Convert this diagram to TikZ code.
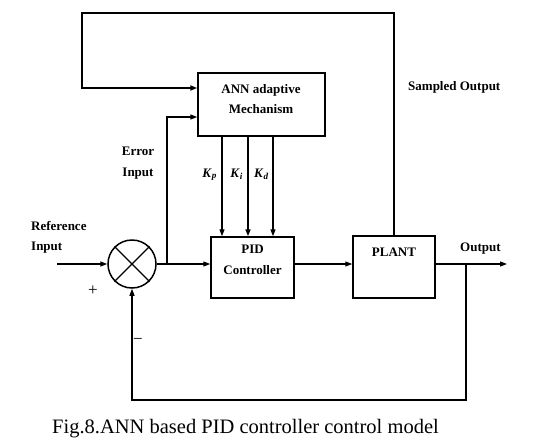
\documentclass[tikz,border=0pt]{standalone}
\usepackage{fontspec}
\setmainfont{Liberation Serif}
\usetikzlibrary{arrows.meta,calc,positioning}

\begin{document}
\begin{tikzpicture}[x=1pt,y=-1pt,every node/.style={font=\fontsize{13}{20.5}\selectfont\bfseries,inner sep=0pt}]
  \tikzset{bx/.style n args={2}{draw,line width=1.5pt,minimum width=#1,minimum height=#2},
    txt/.style={align=center,anchor=north},
    arr/.style={-{Triangle[length=7pt,width=5pt]},line width=1.1pt}}
  \useasboundingbox (0,0) rectangle (551,447);
  % blocks
  \node[bx={127pt}{63pt}] (ann) at (261.5,104.5) {};
  \node[txt] (annTxt) at (261,84) {ANN adaptive\\Mechanism};
  \node[bx={83pt}{61pt}] (pid) at (252.5,267.5) {};
  \node[txt] (pidTxt) at (252.5,245) {PID\\Controller};
  \node[bx={82pt}{62pt}] (plant) at (394,267) {};
  \node[txt] (plantTxt) at (394,248) {PLANT};
  \node[draw,circle,line width=1.5pt,minimum size=48pt] (sum) at (132,264) {};
  \draw[line width=1.4pt] (sum.north west) -- (sum.south east) (sum.north east) -- (sum.south west);
  % labels
  \node[align=left,anchor=north west] (refTxt) at (31,221) {Reference\\Input};
  \node[txt] (errTxt) at (138,147) {Error\\Input};
  \node[anchor=base east] (kpTxt) at (217,177) {\textit{K}\textsubscript{\textit{p}}};
  \node[anchor=base east] (kiTxt) at (243,177) {\textit{K}\textsubscript{\textit{i}}};
  \node[anchor=base east] (kdTxt) at (269,177) {\textit{K}\textsubscript{\textit{d}}};
  \node[anchor=north west] (sampTxt) at (408,81) {Sampled Output};
  \node[anchor=north west] (outTxt) at (460,243) {Output};
  \node[font=\fontsize{17}{20}\selectfont] (plus) at (93,291) {+};
  \node[font=\fontsize{17}{20}\selectfont] (minus) at (138,341) {−};
  \node[anchor=base west,font=\fontsize{20.5}{24}\selectfont] (cap) at (52,433) {Fig.8.ANN based PID controller control model};
  % connectors
  \coordinate (refIn) at (57,264);
  \coordinate (errTap) at (167,264);
  \coordinate (loopTL) at (82,13);
  \coordinate (kpX) at (222,0);
  \coordinate (kiX) at (248,0);
  \coordinate (kdX) at (273,0);
  \coordinate (outEnd) at (507,264);
  \coordinate (fbTap) at (466,264);
  \coordinate (fbLow) at (466,400);
  \draw[arr,line width=1.4pt] (refIn) -- (sum.west);
  \draw[arr] (sum.east) -- (sum.east -| pid.west);
  \draw[arr] (errTap) |- ([yshift=-12.5pt]ann.west);
  \draw[arr,line width=1.7pt] (plant.north) |- (loopTL) |- ([yshift=16.5pt]ann.west);
  \draw[arr] (ann.south -| kpX) -- (pid.north -| kpX);
  \draw[arr,line width=1.8pt] (ann.south -| kiX) -- (pid.north -| kiX);
  \draw[arr] (ann.south -| kdX) -- (pid.north -| kdX);
  \draw[arr] (sum.east -| pid.east) -- (sum.east -| plant.west);
  \draw[arr] (sum.east -| plant.east) -- (outEnd);
  \draw[arr] (fbTap) -- (fbLow) -| (sum.south);
\end{tikzpicture}
\end{document}
